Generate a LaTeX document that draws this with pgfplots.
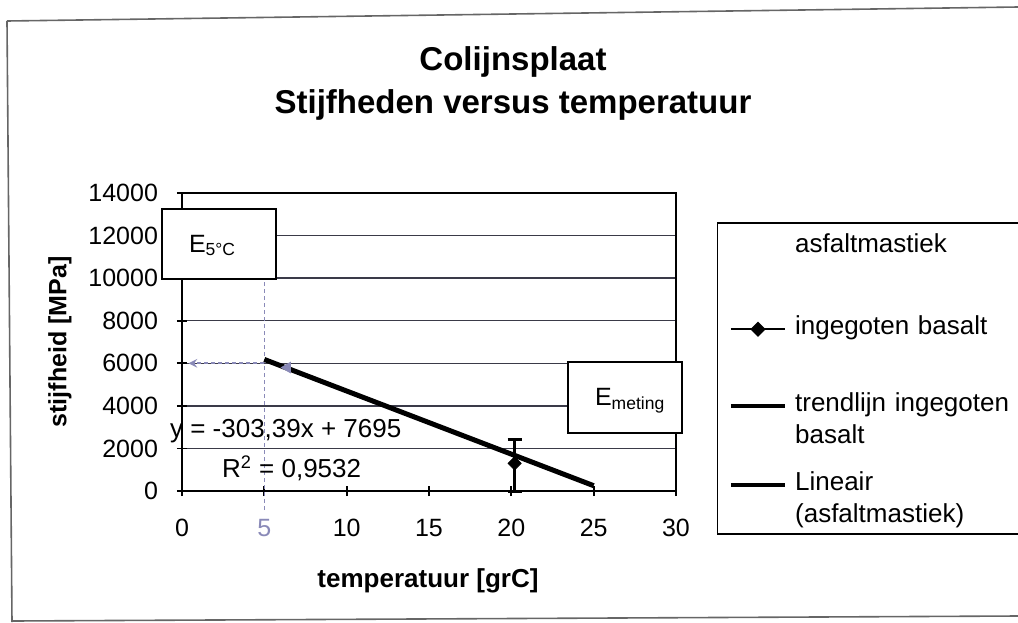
\documentclass[border=0pt]{standalone}
\usepackage{pgfplots}
\pgfplotsset{compat=1.18}
\usepackage{fontspec}
\setmainfont{Liberation Sans}
\definecolor{gridc}{HTML}{3A3A48}
\definecolor{annc}{HTML}{8A8AB8}
\pgfplotsset{
  legline/.style={legend image code/.code={\draw[##1] (0pt,0pt) -- (27pt,0pt);}},
  legmark/.style={legend image code/.code={\draw[##1,mark repeat=2,mark phase=2] plot coordinates {(0pt,0pt) (13.5pt,0pt) (27pt,0pt)};}},
}
\begin{document}
\begin{tikzpicture}[x=1pt,y=1pt]
\useasboundingbox (0,0) rectangle (509,-311);
% outer frame
\draw[line width=0.8pt, black!60] (3.5,-10.5) -- (509,-3.5);
\draw[line width=0.8pt, black!60] (3.5,-10.5) -- (6,-311);
\draw[line width=0.8pt, black!60] (6,-310.5) -- (509,-308);
% title
\node[anchor=base, font=\fontsize{16.5}{18}\selectfont\bfseries] at (256.5,-35) {Colijnsplaat};
\node[anchor=base, font=\fontsize{16.5}{18}\selectfont\bfseries] at (256.5,-56.5) {Stijfheden versus temperatuur};
\begin{axis}[
  at={(91pt,-245.5pt)}, anchor=south west, scale only axis,
  width=247pt, height=149pt,
  xmin=0, xmax=30, ymin=0, ymax=14000,
  scaled x ticks=false, scaled y ticks=false,
  xtick={0,5,...,30}, xticklabels={0,{\color{annc}5},10,15,20,25,30},
  ytick={0,2000,...,14000}, yticklabels={0,2000,4000,6000,8000,10000,12000,14000},
  tick pos=left,
  ymajorgrids, grid style={gridc, line width=0.7pt},
  axis line style={black, line width=0.9pt},
  tick style={black, line width=0.9pt}, tick align=center, major tick length=5pt,
  tick label style={font=\fontsize{12.5}{14}\selectfont},
  xticklabel shift=8pt, yticklabel shift=6pt,
  clip=false,
  legend style={at={(1.083,0.9027)}, anchor=north west, draw=black, line width=0.75pt,
    inner xsep=5.5pt, inner ysep=0pt, row sep=0pt, column sep=4pt,
    nodes={inner sep=0pt, text depth=, text width=108pt, align=left, font=\fontsize{13}{16}\selectfont},
    cells={anchor=mid west}},
]
\addplot[annc, line width=0.8pt, dash pattern=on 2pt off 1.5pt, forget plot] coordinates {(5,-900) (5,10000)};
\addplot[annc, line width=0.9pt, dash pattern=on 2pt off 1.5pt, -stealth, forget plot] coordinates {(5,6000) (0.4,6000)};
\addplot[black, line width=2.5pt, forget plot] coordinates {(5,6180) (25,250)};
\addplot[annc, only marks, mark=triangle*, mark size=3pt, mark options={rotate=90}, forget plot] coordinates {(6.4,5800)};
\addplot[black, only marks, mark=square*, mark size=2.3pt, mark options={rotate=45}, forget plot,
  error bars/.cd, y dir=both, y explicit,
  error bar style={line width=1.2pt}, error mark options={rotate=90, mark size=3.5pt, line width=1.5pt}]
  coordinates {(20.2,1300) += (0,1100) -= (0,1300)};
\addlegendimage{empty legend}
\addlegendentry{\rule[-28pt]{0pt}{42.9pt}asfaltmastiek}
\addlegendimage{legmark, black, line width=0.8pt, mark=square*, mark size=2.3pt, mark options={rotate=45,solid}}
\addlegendentry{\rule[-25.5pt]{0pt}{38.5pt}ingegoten basalt}
\addlegendimage{legline, black, line width=2pt}
\addlegendentry{\rule[-3pt]{0pt}{16pt}trendlijn ingegoten}
\addlegendimage{empty legend}
\addlegendentry{\rule[-10.5pt]{0pt}{23.5pt}basalt}
\addlegendimage{legline, black, line width=2.2pt}
\addlegendentry{\rule[-3pt]{0pt}{16pt}Lineair}
\addlegendimage{empty legend}
\addlegendentry{\rule[-5.6pt]{0pt}{18.6pt}(asfaltmastiek)}
\end{axis}
% annotation boxes
\draw[black, line width=0.9pt, fill=white] (81,-104.5) rectangle (138,-139.5);
\node[anchor=base west, font=\fontsize{12.5}{14}\selectfont] at (91,-126) {E\textsubscript{5°C}};
\draw[black, line width=0.9pt, fill=white] (284,-181) rectangle (341,-216.5);
\node[anchor=base west, font=\fontsize{12.5}{14}\selectfont] at (294,-202.5) {E\textsubscript{meting}};
% trendline equation
\node[anchor=base west, font=\fontsize{13}{15}\selectfont] at (81.5,-218.5) {y = -303,39x + 7695};
\node[anchor=base west, font=\fontsize{13}{15}\selectfont] at (107.5,-238.5) {R\textsuperscript{2} = 0,9532};
% axis titles
\node[anchor=base, font=\fontsize{13}{15}\selectfont\bfseries] at (214,-293.5) {temperatuur [grC]};
\node[rotate=90, font=\fontsize{12.5}{15}\selectfont\bfseries] at (30,-171) {stijfheid [MPa]};
\end{tikzpicture}
\end{document}
